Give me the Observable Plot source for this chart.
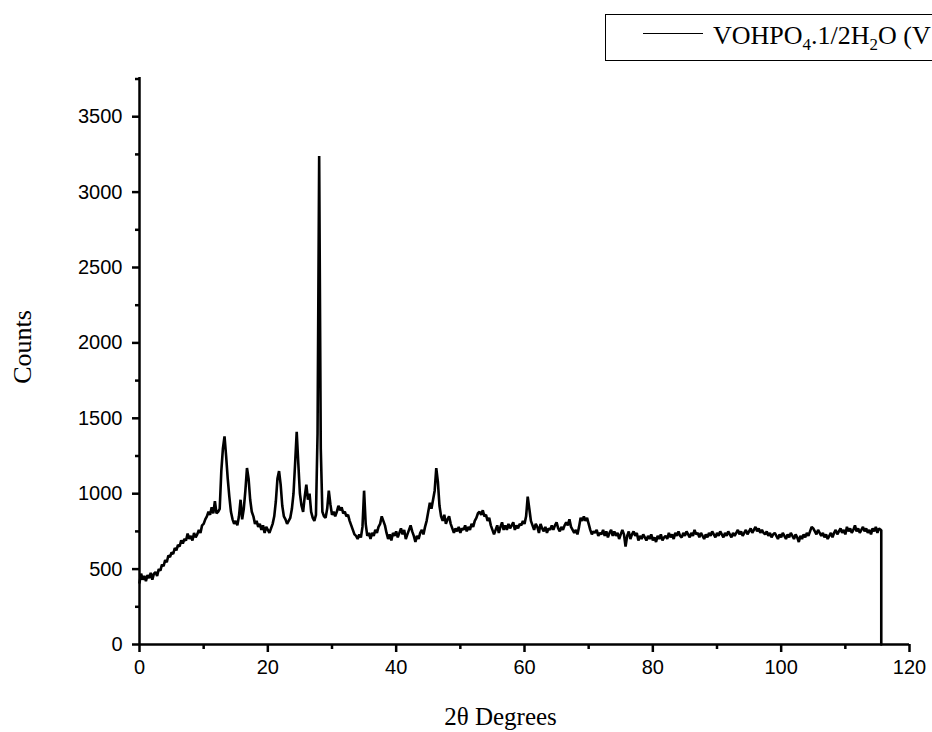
<!DOCTYPE html>
<html><head><meta charset="utf-8">
<script src="https://cdn.jsdelivr.net/npm/d3@7"></script>
<script src="https://cdn.jsdelivr.net/npm/@observablehq/plot@0.6"></script>
<style>
html,body{margin:0;padding:0;background:#fff;overflow:hidden;width:932px;height:732px}
#wrap{position:relative;width:932px;height:732px;overflow:hidden}
#legend{position:absolute;left:605px;top:14px;width:420px;height:45px;border:1.5px solid #000;background:#fff;font-family:"Liberation Serif","Times New Roman",serif;font-size:26px;white-space:nowrap;color:#000}
#legend .swatch{position:absolute;left:37px;top:18px;width:60px;height:0;border-top:1.3px solid #000}
#legend .lbl{position:absolute;left:107px;top:8px;line-height:25px}
#legend sub{font-size:0.65em;vertical-align:-0.35em;line-height:0}
</style>
</head><body>
<div id="wrap"><div id="legend"><div class="swatch"></div><div class="lbl">VOHPO<sub>4</sub>.1/2H<sub>2</sub>O (V</div></div></div>
<script>
// XRD scan: counts at 0.25° steps starting at 0°
const startAngle = 0;
const stepAngle = 0.25;
const counts = [
  // 0 – 4.75
  410,470,430,455, 420,460,440,475, 430,470,480,455, 500,490,530,520, 560,545,590,580,
  // 5 – 9.75
  610,600,640,625, 660,650,690,670, 700,690,735,700, 720,690,740,710, 730,760,740,790,
  // 10 – 14.75
  800,830,850,880, 860,910,870,950, 870,880,900,1150, 1300,1380,1250,1100, 980,880,830,800,
  // 15 – 19.75
  820,790,850,960, 830,900,1020,1170, 1100,960,880,850, 800,820,780,800, 760,790,740,780,
  // 20 – 24.75
  760,740,770,800, 850,950,1100,1150, 1060,920,850,830, 800,820,840,900, 1000,1200,1410,1200,
  // 25 – 29.75
  1000,920,880,980, 1060,960,1000,880, 840,820,860,1400, 3240,1300,880,850, 840,900,1020,930,
  // 30 – 34.75
  860,880,850,880, 920,890,910,870, 880,850,860,820, 790,760,730,720, 700,730,710,780,
  // 35 – 39.75
  1020,800,720,740, 700,740,720,760, 740,780,800,850, 820,790,740,700, 730,690,740,720,
  // 40 – 44.75
  750,710,740,770, 730,760,700,730, 760,790,750,720, 680,720,700,740, 760,730,780,820,
  // 45 – 49.75
  880,940,900,960, 1020,1170,1080,920, 850,820,860,800, 830,850,800,770, 740,770,750,780,
  // 50 – 54.75
  740,770,760,790, 750,780,760,800, 780,820,840,870, 880,860,890,850, 860,820,840,790,
  // 55 – 59.75
  760,730,760,790, 740,780,810,760, 790,760,800,770, 790,810,760,790, 770,800,790,820,
  // 60 – 64.75
  800,850,980,900, 820,790,760,800, 780,740,800,770, 750,780,740,770, 760,790,760,790,
  // 65 – 69.75
  810,770,750,780, 760,790,810,790, 830,780,760,740, 760,730,780,840, 820,850,820,840,
  // 70 – 74.75
  800,760,730,750, 740,760,720,740, 730,760,720,750, 710,740,760,720, 750,720,740,700,
  // 75 – 79.75
  730,760,730,650, 720,750,700,730, 750,720,740,690, 720,700,730,710, 690,720,700,730,
  // 80 – 84.75
  690,710,680,720, 700,730,690,710, 720,700,740,710, 730,700,740,720, 750,720,710,740,
  // 85 – 89.75
  720,750,730,710, 740,720,760,730, 740,710,740,720, 700,730,710,740, 720,750,730,710,
  // 90 – 94.75
  740,720,750,730, 710,740,720,750, 730,710,740,720, 740,760,730,750, 720,740,760,730,
  // 95 – 99.75
  750,770,740,760, 780,750,770,740, 760,740,730,750, 720,740,710,730, 740,720,700,730,
  // 100 – 104.75
  710,740,720,700, 730,710,740,720, 700,730,710,680, 720,700,730,710, 740,720,750,780,
  // 105 – 109.75
  770,750,730,760, 740,720,740,710, 730,700,720,740, 710,740,760,730, 750,770,740,760,
  // 110 – 114.75
  730,780,750,770, 740,760,790,750, 770,740,760,780, 750,770,740,760, 730,770,750,780,
  // 115 – 115.5
  740,770,760
];
// end of scan: the trace drops to zero
const tailAngle = [115.6, 115.6];
const tailCounts = [760, 0];

const xMajor = [0, 20, 40, 60, 80, 100, 120];
const xMinor = [10, 30, 50, 70, 90, 110];
const yMajor = [0, 500, 1000, 1500, 2000, 2500, 3000, 3500];
const yMinor = [250, 750, 1250, 1750, 2250, 2750, 3250, 3750];

const data = counts.map((c, i) => ({x: startAngle + i * stepAngle, y: c}))
  .concat(tailAngle.map((a, i) => ({x: a, y: tailCounts[i]})));

const serif = '"Liberation Serif", "Times New Roman", serif';
const chart = Plot.plot({
  width: 932, height: 732,
  marginLeft: 139, marginRight: 23, marginTop: 77, marginBottom: 88,
  style: {fontFamily: '"Liberation Sans", Arial, sans-serif', fontSize: "20px", background: "white", color: "black", overflow: "visible"},
  x: {domain: [0, 120]},
  y: {domain: [0, 3760]},
  marks: [
    Plot.lineY(data, {x: "x", y: "y", stroke: "black", strokeWidth: 2.6, strokeLinejoin: "miter"}),
    Plot.ruleX([0], {y1: 0, y2: 3760, stroke: "black", strokeWidth: 2.5}),
    Plot.ruleY([0], {x1: 0, x2: 120, stroke: "black", strokeWidth: 2.5}),
    Plot.axisX({ticks: xMajor, tickSize: 8, tickPadding: 7, tickFormat: d => String(d), strokeWidth: 2.5, fontSize: 20, label: null}),
    Plot.axisX({ticks: xMinor, tickSize: 5, text: null, strokeWidth: 2.5, label: null}),
    Plot.axisY({ticks: yMajor, tickSize: 7, tickPadding: 10, tickFormat: d => String(d), strokeWidth: 2.5, fontSize: 20, label: null}),
    Plot.axisY({ticks: yMinor, tickSize: 4, text: null, strokeWidth: 2.5, label: null}),
    Plot.text(["Counts"], {text: d => d, frameAnchor: "left", textAnchor: "middle", lineAnchor: "middle", dx: -117, dy: -14, rotate: -90, fontFamily: serif, fontSize: 26, fill: "black"}),
    Plot.text(["2θ Degrees"], {text: d => d, frameAnchor: "bottom", lineAnchor: "middle", dx: -24, dy: 72, fontFamily: serif, fontSize: 25, fill: "black"})
  ]
});
document.getElementById("wrap").prepend(chart);
</script>
</body></html>
